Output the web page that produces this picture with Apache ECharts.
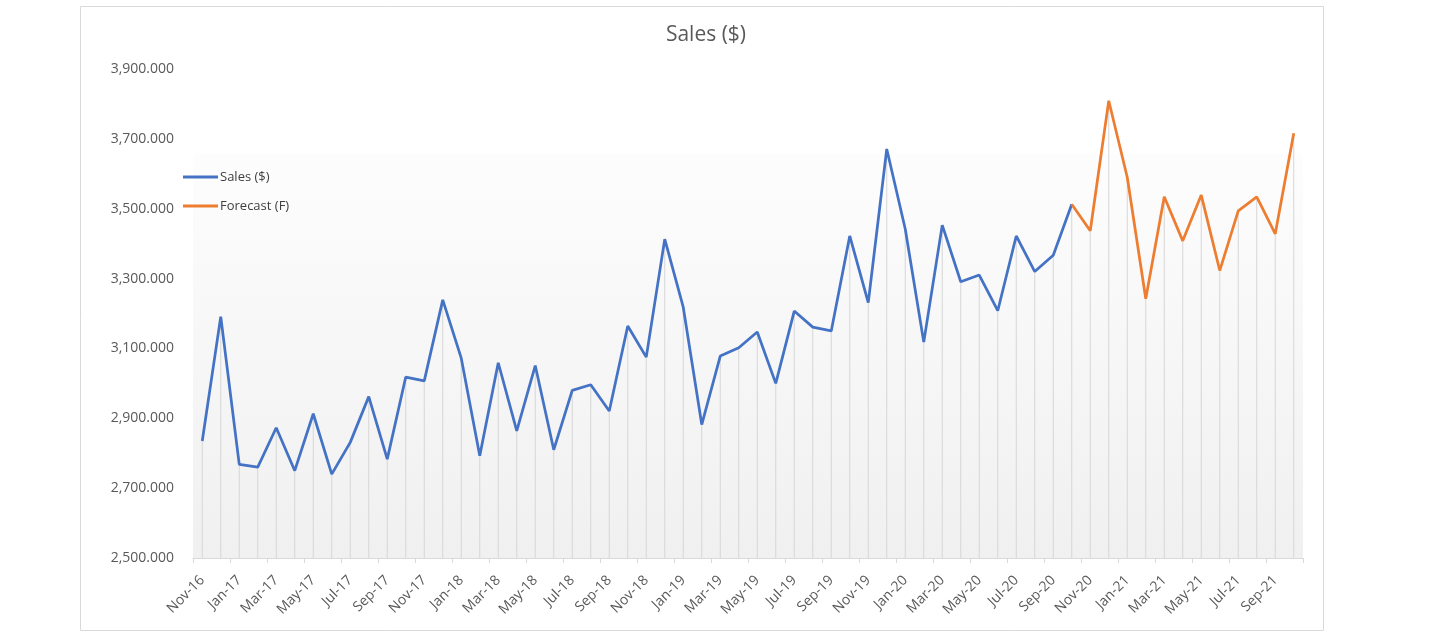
<!DOCTYPE html>
<html>
<head>
<meta charset="utf-8">
<script src="https://cdn.jsdelivr.net/npm/echarts@6/dist/echarts.min.js"></script>
<style>
html,body{margin:0;padding:0;background:#fff;}
#chart{width:1456px;height:633px;}
</style>
</head>
<body>
<div id="chart"></div>
<script>
const categories = [
  "Nov-16","Dec-16",
  "Jan-17","Feb-17","Mar-17","Apr-17","May-17","Jun-17","Jul-17","Aug-17","Sep-17","Oct-17","Nov-17","Dec-17",
  "Jan-18","Feb-18","Mar-18","Apr-18","May-18","Jun-18","Jul-18","Aug-18","Sep-18","Oct-18","Nov-18","Dec-18",
  "Jan-19","Feb-19","Mar-19","Apr-19","May-19","Jun-19","Jul-19","Aug-19","Sep-19","Oct-19","Nov-19","Dec-19",
  "Jan-20","Feb-20","Mar-20","Apr-20","May-20","Jun-20","Jul-20","Aug-20","Sep-20","Oct-20","Nov-20","Dec-20",
  "Jan-21","Feb-21","Mar-21","Apr-21","May-21","Jun-21","Jul-21","Aug-21","Sep-21","Oct-21"
];
const salesValues = [
  2835, 3191,
  2768, 2760, 2873, 2750, 2913, 2740, 2831, 2962, 2783, 3018, 3007, 3239,
  3072, 2793, 3059, 2864, 3051, 2810, 2980, 2996, 2921, 3164, 3075, 3413,
  3218, 2882, 3078, 3102, 3147, 3000, 3207, 3161, 3150, 3422, 3231, 3671,
  3442, 3118, 3453, 3291, 3310, 3208, 3422, 3320, 3367, 3513
];
const forecastValues = [
  3513, 3437, 3809,
  3590, 3242, 3534, 3408, 3539, 3323, 3494, 3534, 3428, 3716
];
const yTicks = { min: 2500, max: 3900, interval: 200 };

const forecastStart = salesValues.length - 1;
const salesSeries = categories.map((c, i) => i < salesValues.length ? salesValues[i] : null);
const forecastSeries = categories.map((c, i) => i >= forecastStart ? forecastValues[i - forecastStart] : null);
const dropValues = categories.map((c, i) => i < forecastStart ? salesValues[i] : forecastValues[i - forecastStart]);

const chart = echarts.init(document.getElementById('chart'));
const font = '"Open Sans", "Noto Sans", sans-serif';
chart.setOption({
  animation: false,
  textStyle: { fontFamily: font },
  graphic: [{
    type: 'rect', silent: true, z: -10,
    shape: { x: 80.5, y: 6.5, width: 1243, height: 624 },
    style: { fill: 'none', stroke: '#d9d9d9', lineWidth: 1 }
  }],
  title: {
    text: 'Sales ($)', left: 701, top: 20, textAlign: 'center',
    textStyle: { fontFamily: font, fontSize: 21, fontWeight: 'normal', color: '#595959' }
  },
  legend: {
    orient: 'vertical', left: 183, top: 168, padding: 0,
    icon: 'rect', itemWidth: 35, itemHeight: 3, itemGap: 11,
    data: ['Sales ($)', 'Forecast (F)'],
    textStyle: { fontFamily: font, fontSize: 13, color: '#404040', padding: [0, 0, 0, -3], lineHeight: 18 }
  },
  grid: {
    left: 193, right: 153, top: 69, bottom: 75, show: true, borderWidth: 0,
    backgroundColor: {
      type: 'linear', x: 0, y: 0, x2: 0, y2: 1,
      colorStops: [
        { offset: 0, color: '#ffffff' },
        { offset: 0.17, color: '#ffffff' },
        { offset: 0.175, color: '#fdfdfd' },
        { offset: 1, color: '#f0f0f0' }
      ]
    }
  },
  xAxis: {
    type: 'category', data: categories, boundaryGap: true,
    axisLine: { lineStyle: { color: '#d9d9d9', width: 1 } },
    axisTick: { show: true, interval: 1, length: 5, lineStyle: { color: '#d9d9d9' } },
    axisLabel: { interval: 1, rotate: 45, fontSize: 14, color: '#595959', margin: 20, fontFamily: font },
    splitLine: { show: false }
  },
  yAxis: {
    type: 'value', min: yTicks.min, max: yTicks.max, interval: yTicks.interval,
    axisLine: { show: false }, axisTick: { show: false }, splitLine: { show: false },
    axisLabel: {
      fontSize: 14, color: '#595959', margin: 19, fontFamily: font,
      formatter: v => v.toLocaleString('en-US', { minimumFractionDigits: 3, maximumFractionDigits: 3 })
    }
  },
  series: [
    {
      name: 'drop', type: 'bar', data: dropValues, barWidth: 1, silent: true,
      itemStyle: { color: '#d6d6d6' }, z: 1, legendHoverLink: false
    },
    {
      name: 'Sales ($)', type: 'line', data: salesSeries, symbol: 'none', showSymbol: false,
      lineStyle: { color: '#4472C4', width: 2.75 }, itemStyle: { color: '#4472C4' }, z: 3
    },
    {
      name: 'Forecast (F)', type: 'line', data: forecastSeries, symbol: 'none', showSymbol: false,
      lineStyle: { color: '#ED7D31', width: 2.75 }, itemStyle: { color: '#ED7D31' }, z: 3
    }
  ]
});
</script>
</body>
</html>
